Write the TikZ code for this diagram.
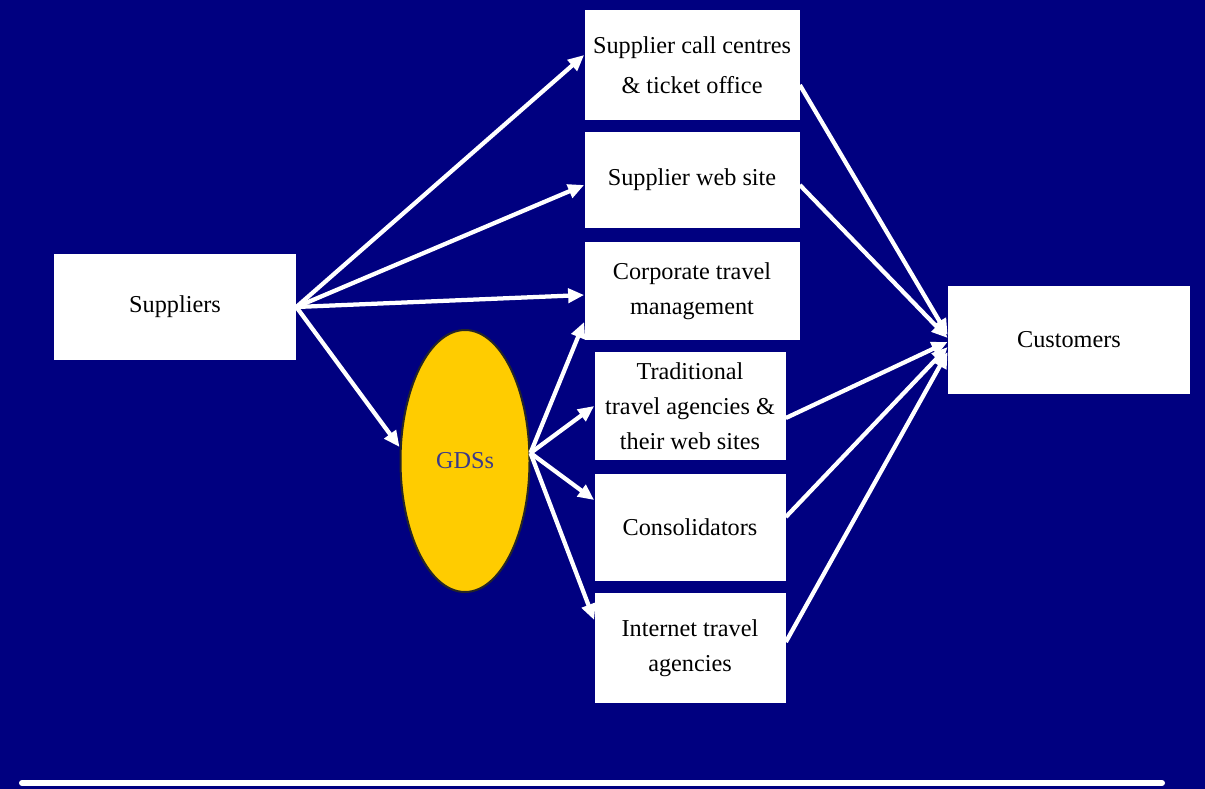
\documentclass[tikz,border=0pt]{standalone}
\usepackage{fontspec}
\setmainfont{Liberation Serif}
\usetikzlibrary{arrows.meta,calc,shapes.geometric}
\definecolor{cnavy}{HTML}{000080}
\definecolor{cgold}{HTML}{FFCC00}
\definecolor{cslate}{HTML}{3A3A8A}

\begin{document}
\begin{tikzpicture}[x=0.2mm,y=-0.2mm,every node/.style={font=\fontsize{13.8}{20}\selectfont},
  box/.style={fill=white,align=center,inner sep=0pt},
  flow/.style={white,line width=0.85mm,-{Triangle[length=3.2mm,width=2.8mm]}}]
  \fill[cnavy] (0,0) rectangle (1205,789);
  \node[box,minimum width=48.4mm,minimum height=21.2mm] (sup) at (175,307) {Suppliers};
  \node[box,minimum width=43mm,minimum height=22mm] (call) at (692,65) {Supplier call centres\\[3pt]\& ticket office};
  \node[box,minimum width=43mm,minimum height=19.2mm] (web) at (692,180) {Supplier web site};
  \node[box,minimum width=43mm,minimum height=19.6mm] (corp) at (692,291) {Corporate travel\\management};
  \node[box,minimum width=38.2mm,minimum height=21.6mm] (trad) at (690,406) {Traditional\\travel agencies \&\\their web sites};
  \node[box,minimum width=38.2mm,minimum height=21.4mm] (cons) at (690,527) {Consolidators};
  \node[box,minimum width=38.2mm,minimum height=22mm] (net) at (690,648) {Internet travel\\agencies};
  \node[box,minimum width=48.4mm,minimum height=21.6mm] (cust) at (1069,340) {Customers};
  \node[ellipse,fill=cgold,draw=black!85,line width=0.4mm,minimum width=25.8mm,minimum height=52.4mm,inner sep=0pt,text=cslate] (gds) at (465,461) {GDSs};
  % suppliers out
  \draw[flow] (sup.east) -- ($(call.west)+(0,-10)$);
  \draw[flow] (sup.east) -- ($(web.west)+(0,5)$);
  \draw[flow] (sup.east) -- ($(corp.west)+(0,4)$);
  \draw[flow] (sup.east) -- ($(gds.west)+(0,-14)$);
  % GDSs out
  \draw[flow] ($(gds.east)+(0,-8)$) -- ($(corp.west)+(0,31)$);
  \draw[flow] ($(gds.east)+(0,-8)$) -- (trad.west);
  \draw[flow] ($(gds.east)+(0,-8)$) -- ($(cons.west)+(0,-27)$);
  \draw[flow] ($(gds.east)+(0,-8)$) -- ($(net.west)+(0,-28)$);
  % to customers
  \draw[flow] ($(call.east)+(0,20)$) -- ($(cust.west)+(0,-5)$);
  \draw[flow] ($(web.east)+(0,5)$) -- ($(cust.west)+(0,-2)$);
  \draw[flow] ($(trad.east)+(0,12)$) -- ($(cust.west)+(0,2)$);
  \draw[flow] ($(cons.east)+(0,-10)$) -- ($(cust.west)+(0,7)$);
  \draw[flow] ($(net.east)+(0,-6)$) -- ($(cust.west)+(0,12)$);
  \draw[white,line width=1.2mm,line cap=round] (22,783) -- (1162,783);
\end{tikzpicture}
\end{document}
